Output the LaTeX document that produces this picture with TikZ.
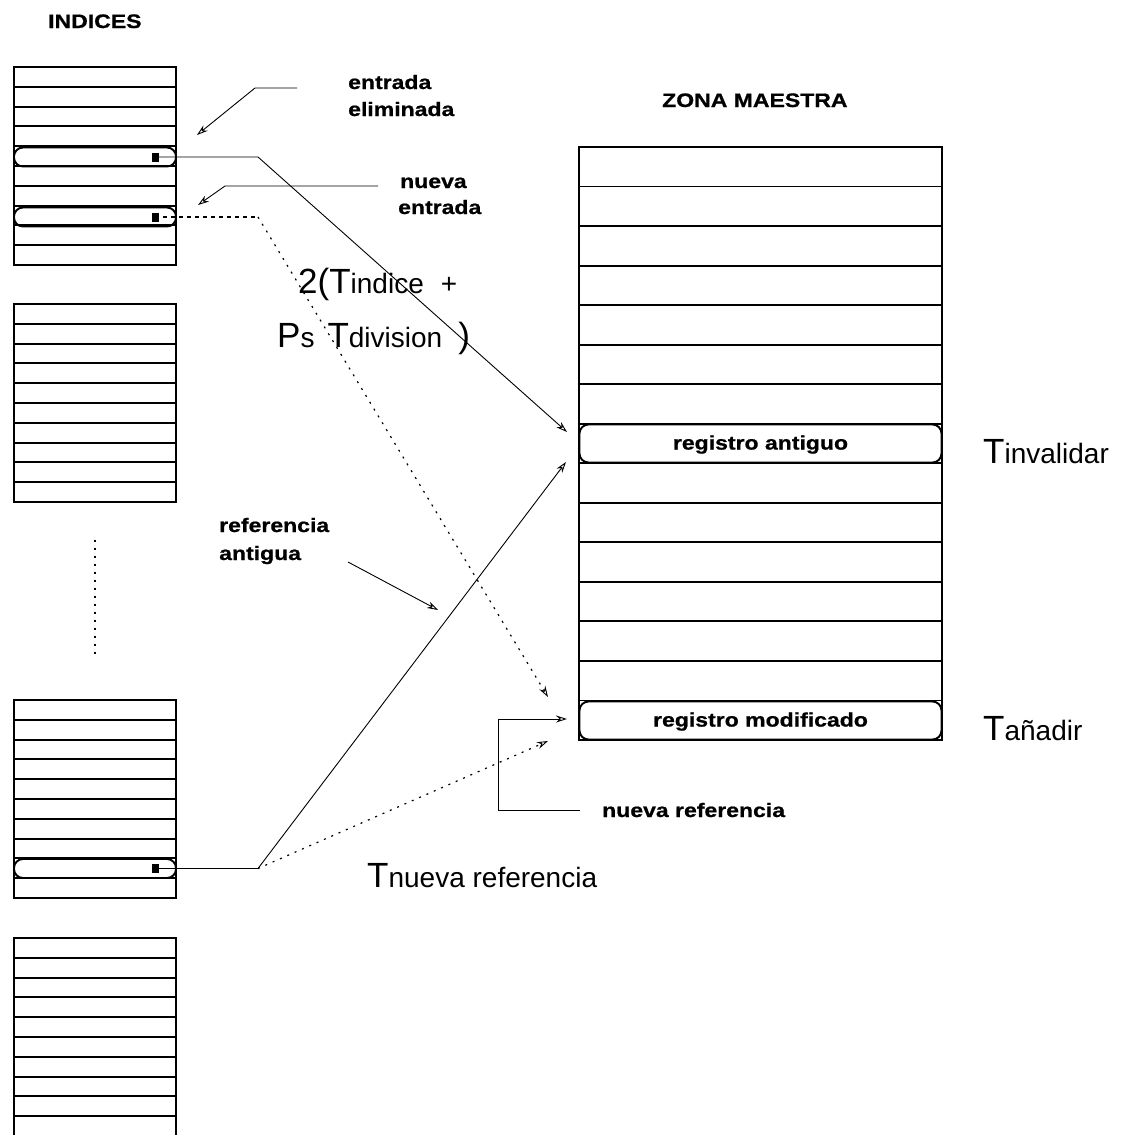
\documentclass[tikz,border=0pt]{standalone}
\usepackage{fontspec}
\setmainfont{Liberation Sans}
\newfontfamily\lblfont[FakeStretch=1.18, BoldFeatures={FakeBold=0.8}]{Liberation Sans}
\usetikzlibrary{arrows.meta}

% big "T" followed by a smaller name, as in T_invalidar
\newcommand{\tcost}[1]{{\fontsize{35}{40}\selectfont T}{\fontsize{28}{32}\selectfont #1}}
\newcommand{\bigpart}[1]{{\fontsize{35}{40}\selectfont #1}}
\newcommand{\smallpart}[1]{{\fontsize{28}{32}\selectfont #1}}

\tikzset{
  gridline/.style={line width=1.9pt},
  entrybox/.style={draw, line width=1.9pt, rounded corners=9pt, inner sep=0pt},
  lbl/.style={font=\lblfont\bfseries\fontsize{19.5}{24}\selectfont, inner sep=0pt, anchor=base west},
  cost/.style={inner sep=0pt, anchor=base west},
  conn/.style={line width=0.9pt},
  tip/.style={-{Stealth[open,length=11pt,width=7pt]}},
  dotline/.style={line width=1.2pt, dash pattern=on 2pt off 6pt},
  dashline/.style={line width=1.1pt, dash pattern=on 4pt off 4pt},
  ptr/.style={fill, inner sep=0pt, minimum width=7pt, minimum height=9pt}
}

\begin{document}
\begin{tikzpicture}[x=1pt, y=-1pt]
\fill[white] (0,0) rectangle (1122,1135);
\useasboundingbox (0,0) rectangle (1122,1135);

% index blocks: ten slots each
\begin{scope}
\clip (0,0) rectangle (1122,1135);
\foreach \top in {67,304,700,938} {
  \draw[gridline] (14,\top) rectangle (176,{\top+198});
  \foreach \i in {1,...,9}
    \draw[gridline] (14,{\top+\i*19.8}) -- (176,{\top+\i*19.8});
}
\end{scope}

% highlighted index entries
\node[entrybox, minimum width=162pt, minimum height=19pt] (e1) at (95,157) {};
\node[entrybox, minimum width=162pt, minimum height=19pt] (e2) at (95,217) {};
\node[entrybox, minimum width=162pt, minimum height=19pt] (e3) at (95,868.5) {};
\node[ptr] (p1) at (155,157) {};
\node[ptr] (p2) at (155,217) {};
\node[ptr] (p3) at (155,868.5) {};

% ellipsis between blocks
\draw[line width=1.2pt, dash pattern=on 2pt off 6pt] (95,540) -- (95,657);

% master zone: fifteen records
\draw[gridline] (579,147) rectangle (942,740);
\foreach \i in {1,...,14}
  \draw[gridline] (579,{147+\i*39.533}) -- (942,{147+\i*39.533});

\node[entrybox, minimum width=362pt, minimum height=38pt, text depth=2pt,
      font=\lblfont\bfseries\fontsize{19.5}{24}\selectfont] (ra) at (760.5,443.5) {registro antiguo};
\node[entrybox, minimum width=362pt, minimum height=38pt, text depth=2pt,
      font=\lblfont\bfseries\fontsize{19.5}{24}\selectfont] (rm) at (760.5,720.5) {registro modificado};

% headings and labels
\node[lbl] (hidx) at (48,28) {INDICES};
\node[lbl] (hzona) at (662,107) {ZONA MAESTRA};
\node[lbl] (lel1) at (348,89) {entrada};
\node[lbl] (lel2) at (348,116) {eliminada};
\node[lbl] (lne1) at (400,188) {nueva};
\node[lbl] (lne2) at (398,214) {entrada};
\node[lbl] (lra1) at (219,532) {referencia};
\node[lbl] (lra2) at (219,560) {antigua};
\node[lbl] (lnr) at (602,817) {nueva referencia};

% costs
\node[cost] (cinv) at (983,463) {\tcost{invalidar}};
\node[cost] (cadd) at (983,740) {\tcost{añadir}};
\node[cost] (cref) at (367,887) {\tcost{nueva referencia}};
\node[cost] (cf1) at (298,293) {\bigpart{2(T}\smallpart{indice}\hspace{17pt}\smallpart{+}};
\node[cost] (cf2) at (277,347) {\bigpart{P}\smallpart{s}\hspace{13pt}\bigpart{T}\smallpart{division}\hspace{16pt}\bigpart{)}};

% routing points
\coordinate (k1) at (258,157);
\coordinate (k2) at (258,217);
\coordinate (k3) at (258,868.5);
\coordinate (t1) at (567,432);
\coordinate (t2) at (548,697);
\coordinate (t3) at (566,462);
\coordinate (t4) at (548,741);

% pointers from the index to the master zone
\draw[conn, tip] (p1.center) -- (k1) -- (t1);
\draw[dashline] (p2.center) -- (k2);
\draw[dotline, -{Stealth[open,length=11pt,width=7pt,line width=0.9pt]}] (k2) -- (t2);
\draw[conn, tip] (p3.center) -- (k3) -- (t3);
\draw[dotline, -{Stealth[open,length=11pt,width=7pt,line width=0.9pt]}] (k3) -- (t4);

% label pointers
\coordinate (a1s) at (297,88);
\coordinate (a1k) at (255,88);
\coordinate (a1e) at (197,135);
\draw[conn, tip] (a1s) -- (a1k) -- (a1e);

\coordinate (a2s) at (378,186);
\coordinate (a2k) at (225,186);
\coordinate (a2e) at (198,205);
\draw[conn, tip] (a2s) -- (a2k) -- (a2e);

\coordinate (a3s) at (348,562);
\coordinate (a3e) at (438,610);
\draw[conn, tip] (a3s) -- (a3e);

\coordinate (a4s) at (580,810);
\coordinate (a4k1) at (498,810);
\coordinate (a4k2) at (498,719);
\coordinate (a4e) at (567,719);
\draw[conn, tip] (a4s) -- (a4k1) -- (a4k2) -- (a4e);
\end{tikzpicture}
\end{document}
